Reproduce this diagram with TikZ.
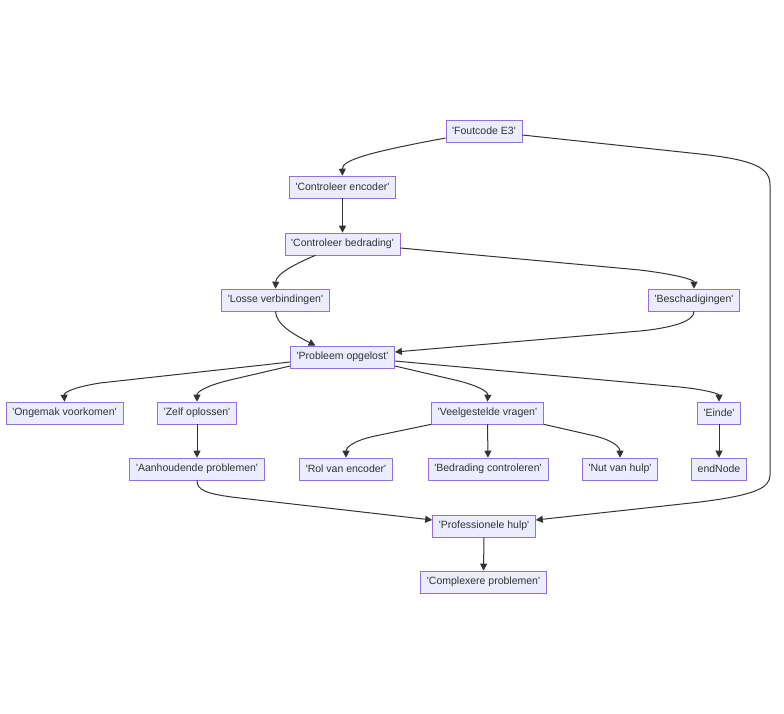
\documentclass[tikz,border=0pt]{standalone}
\usepackage{fontspec}
\setmainfont{Liberation Sans}
\usetikzlibrary{arrows.meta}
\definecolor{nfill}{HTML}{ECECFF}
\definecolor{nstroke}{HTML}{9370DB}
\definecolor{ntext}{HTML}{333333}
\definecolor{edge}{HTML}{333333}
\newcommand\sq{\textquotesingle}
\tikzset{
  box/.style={draw=nstroke, fill=nfill, text=ntext, line width=0.6pt,
    minimum height=22pt, inner xsep=6.3pt, inner ysep=0pt,
    font=\fontsize{10.5}{12}\selectfont},
  conn/.style={draw=edge, line width=1pt, -{Triangle[length=7pt,width=7pt]}}
}
\begin{document}
\begin{tikzpicture}[x=1pt,y=-1pt]
\useasboundingbox (0,0) rectangle (784,713);
\node[box] (fe) at (484,131) {\sq Foutcode E3\sq};
\node[box] (ce) at (342.5,187) {\sq Controleer encoder\sq};
\node[box] (cb) at (342.5,244) {\sq Controleer bedrading\sq};
\node[box] (lv) at (275.5,300) {\sq Losse verbindingen\sq};
\node[box] (bs) at (694,300) {\sq Beschadigingen\sq};
\node[box] (po) at (342.5,357) {\sq Probleem opgelost\sq};
\node[box] (og) at (64.5,413) {\sq Ongemak voorkomen\sq};
\node[box] (zo) at (197,413) {\sq Zelf oplossen\sq};
\node[box] (vv) at (487.5,413) {\sq Veelgestelde vragen\sq};
\node[box] (ei) at (719,413) {\sq Einde\sq};
\node[box] (ah) at (197,469) {\sq Aanhoudende problemen\sq};
\node[box] (rv) at (346,469) {\sq Rol van encoder\sq};
\node[box] (bc) at (488,469) {\sq Bedrading controleren\sq};
\node[box] (nv) at (620,469) {\sq Nut van hulp\sq};
\node[box] (en) at (719,469) {endNode};
\node[box] (ph) at (484,526) {\sq Professionele hulp\sq};
\node[box] (cp) at (483.5,582) {\sq Complexere problemen\sq};

\draw[conn] ([yshift=-7pt]fe.west) .. controls (370,152) and (342,160) .. (ce.north);
\draw[conn] ([yshift=-4pt]fe.east) -- (700,154) .. controls (755,160) and (770,168) .. (770,185)
  -- (770,475) .. controls (770,488) and (755,495) .. (700,502) -- ([yshift=6pt]ph.east);
\draw[conn] (ce.south) -- (cb.north);
\draw[conn] ([xshift=-27pt]cb.south) .. controls (290,266) and (276,275) .. (lv.north);
\draw[conn] ([yshift=-4pt]cb.east) -- (640,270) .. controls (680,275) and (694,280) .. (bs.north);
\draw[conn] (lv.south) .. controls (276,325) and (295,335) .. ([xshift=-27pt]po.north);
\draw[conn] (bs.south) .. controls (694,322) and (670,328) .. (640,331) -- ([yshift=5pt]po.east);
\draw[conn] ([yshift=-5pt]po.west) -- (100,383) .. controls (75,387) and (64,392) .. (og.north);
\draw[conn] ([yshift=-9pt]po.west) -- (230,380) .. controls (205,386) and (197,392) .. (zo.north);
\draw[conn] ([yshift=-9pt]po.east) -- (455,380) .. controls (480,386) and (488,392) .. (vv.north);
\draw[conn] ([yshift=-4pt]po.east) -- (680,387) .. controls (708,390) and (719,394) .. (ei.north);
\draw[conn] (zo.south) -- (ah.north);
\draw[conn] (vv.south west) -- (375,436) .. controls (352,441) and (346,448) .. (rv.north);
\draw[conn] (vv.south) -- (bc.north);
\draw[conn] (vv.south east) -- (595,436) .. controls (615,441) and (620,448) .. (nv.north);
\draw[conn] (ei.south) -- (en.north);
\draw[conn] (ah.south) .. controls (197,490) and (205,494) .. (240,498) -- ([yshift=6pt]ph.west);
\draw[conn] (ph.south) -- (cp.north);
\end{tikzpicture}
\end{document}
